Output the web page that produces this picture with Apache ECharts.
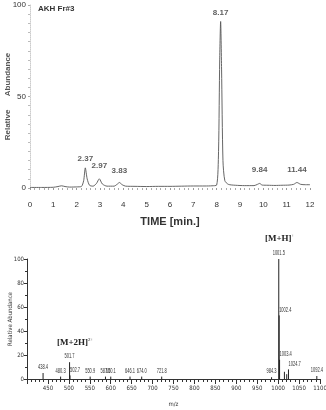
<!DOCTYPE html>
<html>
<head>
<meta charset="utf-8">
<script src="https://cdn.jsdelivr.net/npm/echarts@6/dist/echarts.min.js"></script>
<style>
    html, body { margin: 0; padding: 0; background: #fff; }
    #main { width: 326px; height: 410px; }
</style>
</head>
<body>
<div id="main"></div>
<script>
// chromatogram trace (time in min, relative abundance %)
let times = [0, 0.5, 1.0, 1.2, 1.35, 1.5, 1.7, 2.0, 2.2, 2.3, 2.37, 2.45, 2.55, 2.7, 2.85, 2.97, 3.1, 3.3,
    3.6, 3.75, 3.83, 3.95, 4.1, 4.5, 5.0, 5.5, 6.0, 6.5, 7.0, 7.5, 7.8, 8.0, 8.08, 8.13, 8.17, 8.21, 8.27,
    8.35, 8.5, 8.8, 9.2, 9.6, 9.75, 9.84, 9.95, 10.2, 10.5, 10.8, 11.1, 11.3, 11.44, 11.6, 11.8, 12.0]
let abundance = [0.3, 0.3, 0.4, 0.8, 1.2, 0.8, 0.5, 0.6, 0.8, 4, 11, 5, 1.5, 1.0, 2.5, 5, 2.2, 1.0,
    1.0, 2.2, 3, 1.8, 1.0, 0.9, 0.8, 0.9, 0.9, 1.0, 1.1, 1.1, 1.2, 1.6, 20, 70, 91, 65, 15,
    4, 2, 1.5, 1.3, 1.3, 2, 2.5, 1.6, 1.5, 1.4, 1.5, 1.6, 2, 3, 2, 1.8, 1.8]

// labelled peaks of the chromatogram
let peakTimes = [2.37, 2.97, 3.83, 8.17, 9.84, 11.44]
let peakHeights = [11, 5, 3, 91, 2.5, 3]

// mass spectrum peaks
let mzValues = [438.4, 480.3, 501.7, 502.7, 550.9, 587.5, 600.1, 646.1, 674.0, 721.8,
    984.3, 1001.5, 1002.4, 1003.4, 1015.0, 1020.5, 1024.7, 1092.4]
let mzIntensity = [5, 2, 14, 3, 2, 2, 2, 2, 2, 2,
    1.5, 100, 53, 16, 6, 4, 8, 2.5]
let mzLabels = ['438.4', '480.3', '501.7', '502.7', '550.9', '587.5', '600.1', '646.1', '674.0', '721.8',
    '984.3', '1001.5', '1002.4', '1003.4', '', '', '1024.7', '1092.4']

let labelGap = [5, 9, 8, 5, 10, 9]
let leftLabels = ['502.7', '1002.4', '1003.4', '1024.7']

let narrow = '"DejaVu Sans Condensed", "Liberation Sans Narrow", sans-serif'

let traceData = times.map((t, i) => [t, abundance[i]])
let peakData = peakTimes.map((t, i) => ({
    value: [t, peakHeights[i]],
    label: { distance: labelGap[i] }
}))
let msData = mzValues.map((m, i) => [m, mzIntensity[i]])

function drawPeak(params, api) {
    let base = api.coord([api.value(0), 0])
    let top = api.coord([api.value(0), api.value(1)])
    let lab = mzLabels[params.dataIndex]
    let children = [{
        type: 'line',
        shape: { x1: base[0], y1: base[1], x2: top[0], y2: top[1] },
        style: { stroke: '#222', lineWidth: 1 }
    }]
    if (lab) {
        children.push({
            type: 'text',
            x: top[0],
            y: top[1] - 2,
            scaleX: 0.5,
            style: {
                text: lab,
                fontSize: 8,
                fontFamily: 'Liberation Sans',
                fill: '#333',
                align: leftLabels.indexOf(lab) >= 0 ? 'left' : 'center',
                verticalAlign: 'bottom'
            }
        })
    }
    return { type: 'group', children: children }
}

let option = {
    backgroundColor: '#fff',
    animation: false,
    title: {
        text: 'AKH Fr#3',
        left: 33,
        top: 0,
        textStyle: { fontSize: 8, fontWeight: 'bold', color: '#333', fontFamily: 'Liberation Sans' }
    },
    grid: [
        { left: 30, right: 16, top: 5, bottom: 222, outerBoundsMode: 'none' },
        { left: 27, right: 6, top: 259, bottom: 31, outerBoundsMode: 'none' }
    ],
    xAxis: [
        {
            gridIndex: 0,
            type: 'value',
            min: 0,
            max: 12,
            interval: 1,
            offset: 8,
            name: 'TIME [min.]',
            nameLocation: 'middle',
            nameGap: 20,
            nameTextStyle: { fontSize: 11, fontWeight: 'bold', color: '#333', fontFamily: 'Liberation Sans' },
            axisLine: { show: false },
            axisTick: { show: true, length: 2, lineStyle: { color: '#999' } },
            minorTick: { show: true, splitNumber: 5, length: 2, lineStyle: { color: '#aaa' } },
            axisLabel: { fontSize: 8, color: '#333', margin: 5, fontFamily: 'Liberation Sans' },
            splitLine: { show: false }
        },
        {
            gridIndex: 1,
            type: 'value',
            min: 400,
            max: 1100,
            interval: 50,
            name: 'm/z',
            nameLocation: 'middle',
            nameGap: 22,
            nameTextStyle: { fontSize: 6, color: '#333', fontFamily: narrow },
            axisLine: { lineStyle: { color: '#333', width: 1 } },
            axisTick: { length: 5, lineStyle: { color: '#333' } },
            minorTick: { show: true, splitNumber: 5, length: 3, lineStyle: { color: '#333' } },
            axisLabel: {
                fontSize: 6, color: '#333', margin: 6, fontFamily: narrow,
                formatter: v => v === 400 ? '' : v
            },
            splitLine: { show: false }
        }
    ],
    yAxis: [
        {
            gridIndex: 0,
            type: 'value',
            min: 0,
            max: 100,
            interval: 50,
            name: 'Relative      Abundance',
            nameLocation: 'middle',
            nameGap: 18,
            nameMoveOverlap: false,
            nameTextStyle: { fontSize: 8, fontWeight: 'bold', color: '#555', fontFamily: 'Liberation Sans' },
            axisLine: { show: true, lineStyle: { color: '#ccc', type: 'dotted' } },
            axisTick: { show: true, length: 2, lineStyle: { color: '#aaa' } },
            minorTick: { show: true, splitNumber: 10, length: 2, lineStyle: { color: '#bbb' } },
            axisLabel: { fontSize: 8, color: '#333', margin: 4, fontFamily: 'Liberation Sans' },
            splitLine: { show: false }
        },
        {
            gridIndex: 1,
            type: 'value',
            min: 0,
            max: 100,
            interval: 20,
            name: 'Relative Abundance',
            nameLocation: 'middle',
            nameGap: 14,
            nameMoveOverlap: false,
            nameTextStyle: { fontSize: 6, color: '#333', fontFamily: narrow },
            axisLine: { show: true, lineStyle: { color: '#333' } },
            axisTick: { show: true, length: 3, lineStyle: { color: '#333' } },
            minorTick: { show: true, splitNumber: 2, length: 2, lineStyle: { color: '#333' } },
            axisLabel: { fontSize: 6, color: '#333', margin: 3, fontFamily: narrow },
            splitLine: { show: false }
        }
    ],
    series: [
        {
            type: 'line',
            xAxisIndex: 0,
            yAxisIndex: 0,
            data: traceData,
            showSymbol: false,
            smooth: 0.25,
            lineStyle: { color: '#555', width: 0.9 }
        },
        {
            type: 'scatter',
            xAxisIndex: 0,
            yAxisIndex: 0,
            data: peakData,
            symbolSize: 0,
            label: {
                show: true,
                position: 'top',
                formatter: p => p.value[0].toFixed(2),
                fontSize: 8,
                fontWeight: 'bold',
                color: '#333',
                fontFamily: 'Liberation Sans'
            }
        },
        {
            type: 'custom',
            xAxisIndex: 1,
            yAxisIndex: 1,
            data: msData,
            renderItem: drawPeak,
            clip: false
        }
    ],
    graphic: [
        {
            type: 'text',
            left: 265,
            top: 233,
            style: {
                text: '{b|[M+H]}{s|+}',
                rich: {
                    b: { fontSize: 9, fontWeight: 'bold', fontFamily: 'Liberation Serif', fill: '#222' },
                    s: { fontSize: 5, fontFamily: 'Liberation Serif', fill: '#222', verticalAlign: 'top', padding: [0, 0, 6, 0] }
                }
            }
        },
        {
            type: 'text',
            left: 57,
            top: 337,
            style: {
                text: '{b|[M+2H]}{s|2+}',
                rich: {
                    b: { fontSize: 9, fontWeight: 'bold', fontFamily: 'Liberation Serif', fill: '#222' },
                    s: { fontSize: 5, fontFamily: 'Liberation Serif', fill: '#222', verticalAlign: 'top', padding: [0, 0, 6, 0] }
                }
            }
        }
    ]
}

let myChart = echarts.init(document.getElementById('main'))
myChart.setOption(option)
</script>
</body>
</html>
